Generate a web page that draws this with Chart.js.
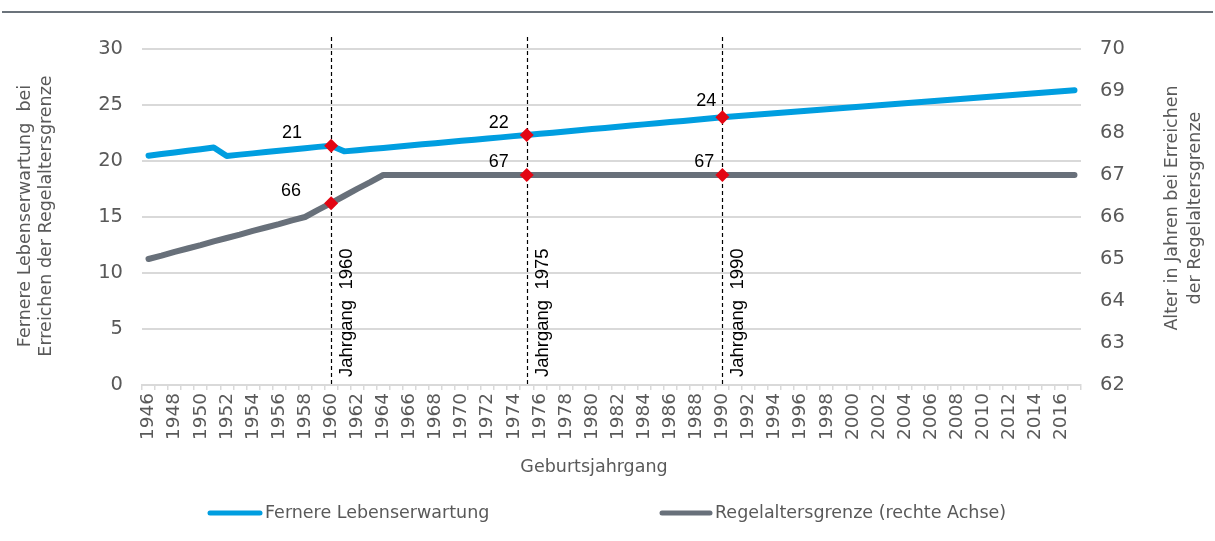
<!DOCTYPE html>
<html lang="de">
<head>
<meta charset="utf-8">
<title>Fernere Lebenserwartung und Regelaltersgrenze</title>
<script src="https://cdn.jsdelivr.net/npm/chart.js@4.4.1/dist/chart.umd.min.js"></script>
<style>
  html, body { margin: 0; padding: 0; background: #fff; }
  #wrap { width: 1215px; height: 541px; }
</style>
</head>
<body>
<div id="wrap"><canvas id="chart" width="1215" height="541"></canvas></div>
<script>
// Geburtsjahrgänge
const years = [
  "1946", "1947", "1948", "1949", "1950", "1951", "1952", "1953", "1954", "1955",
  "1956", "1957", "1958", "1959", "1960", "1961", "1962", "1963", "1964", "1965",
  "1966", "1967", "1968", "1969", "1970", "1971", "1972", "1973", "1974", "1975",
  "1976", "1977", "1978", "1979", "1980", "1981", "1982", "1983", "1984", "1985",
  "1986", "1987", "1988", "1989", "1990", "1991", "1992", "1993", "1994", "1995",
  "1996", "1997", "1998", "1999", "2000", "2001", "2002", "2003", "2004", "2005",
  "2006", "2007", "2008", "2009", "2010", "2011", "2012", "2013", "2014", "2015",
  "2016", "2017"
];

// fernere Lebenserwartung bei Erreichen der Regelaltersgrenze (linke Achse)
const lifeExpectancy = [
  20.47, 20.62, 20.76, 20.91, 21.05, 21.20, 20.45, 20.57, 20.68, 20.80,
  20.91, 21.03, 21.14, 21.26, 21.37, 20.86, 20.96, 21.07, 21.17, 21.28,
  21.38, 21.49, 21.59, 21.69, 21.80, 21.90, 22.01, 22.11, 22.22, 22.32,
  22.43, 22.53, 22.64, 22.74, 22.85, 22.95, 23.06, 23.16, 23.27, 23.37,
  23.48, 23.58, 23.69, 23.79, 23.90, 23.99, 24.08, 24.17, 24.26, 24.35,
  24.44, 24.53, 24.62, 24.71, 24.80, 24.88, 24.97, 25.06, 25.15, 25.24,
  25.33, 25.42, 25.51, 25.60, 25.69, 25.78, 25.87, 25.96, 26.05, 26.14,
  26.23, 26.32
];

// Regelaltersgrenze in Jahren (rechte Achse)
const retirementAge = [
  65.00, 65.08, 65.17, 65.25, 65.33, 65.42, 65.50, 65.58, 65.67, 65.75,
  65.83, 65.92, 66.00, 66.17, 66.33, 66.50, 66.67, 66.83, 67, 67,
  67, 67, 67, 67, 67, 67, 67, 67, 67, 67,
  67, 67, 67, 67, 67, 67, 67, 67, 67, 67,
  67, 67, 67, 67, 67, 67, 67, 67, 67, 67,
  67, 67, 67, 67, 67, 67, 67, 67, 67, 67,
  67, 67, 67, 67, 67, 67, 67, 67, 67, 67,
  67, 67
];

const markedYears = ["1960", "1975", "1990"];
const seriesNames = ["Fernere Lebenserwartung", "Regelaltersgrenze (rechte Achse)"];
const leftTitle = ["Fernere Lebenserwartung  bei", "Erreichen der Regelaltersgrenze"];
const rightTitle = ["Alter in Jahren bei Erreichen", "der Regelaltersgrenze"];
const xTitle = "Geburtsjahrgang";

const BLUE = "#009ee0";
const GREY = "#68707a";
const RED = "#e30613";
const TEXT = "#595959";
const GRID = "#d9d9d9";
const AXIS_FONT = "'DejaVu Sans', sans-serif";
const LABEL_FONT = "'Liberation Sans', Arial, sans-serif";

// label offsets (centre of text relative to the marked point), per marked year
const labelOffsets = [
  [[-39, -13], [-28, -12], [-16, -16]],
  [[-40, -12], [-28, -13], [-18, -13]]
];

const isMarked = ctx => markedYears.includes(years[ctx.dataIndex]);

const overlay = {
  id: "overlay",
  beforeDatasetsDraw(chart) {
    const { ctx, chartArea, scales } = chart;
    ctx.save();
    markedYears.forEach(y => {
      const x = Math.round(scales.x.getPixelForValue(years.indexOf(y))) + 0.5;
      ctx.strokeStyle = "#000";
      ctx.lineWidth = 1.2;
      ctx.setLineDash([4, 3]);
      ctx.beginPath();
      ctx.moveTo(x, 37);
      ctx.lineTo(x, chartArea.bottom);
      ctx.stroke();
      ctx.setLineDash([]);

      ctx.save();
      ctx.translate(x + 15, 377);
      ctx.rotate(-Math.PI / 2);
      ctx.fillStyle = "#000";
      ctx.font = "18.5px " + LABEL_FONT;
      ctx.textAlign = "left";
      ctx.textBaseline = "middle";
      ctx.fillText("Jahrgang  " + y, 0, 0);
      ctx.restore();
    });
    ctx.restore();
  },
  afterDatasetsDraw(chart) {
    const { ctx } = chart;
    ctx.save();
    ctx.font = "18px " + LABEL_FONT;
    ctx.fillStyle = "#000";
    ctx.textAlign = "center";
    ctx.textBaseline = "middle";
    chart.data.datasets.forEach((ds, di) => {
      const meta = chart.getDatasetMeta(di);
      markedYears.forEach((y, k) => {
        const i = years.indexOf(y);
        const pt = meta.data[i];
        const [dx, dy] = labelOffsets[di][k];
        ctx.fillText(String(Math.round(ds.data[i])), pt.x + dx, pt.y + dy);
      });
    });
    ctx.restore();
  },
  afterDraw(chart) {
    const { ctx } = chart;
    ctx.save();
    // rule at the top
    ctx.strokeStyle = "#6b737b";
    ctx.lineWidth = 2;
    ctx.beginPath();
    ctx.moveTo(2, 12);
    ctx.lineTo(1213, 12);
    ctx.stroke();

    ctx.fillStyle = TEXT;
    ctx.font = "17.5px " + AXIS_FONT;
    ctx.textBaseline = "middle";

    // axis titles
    ctx.textAlign = "center";
    ctx.fillText(xTitle, 594, 467);
    leftTitle.forEach((t, i) => {
      ctx.save();
      ctx.translate(25 + i * 21, 216);
      ctx.rotate(-Math.PI / 2);
      ctx.fillText(t, 0, 0);
      ctx.restore();
    });
    rightTitle.forEach((t, i) => {
      ctx.save();
      ctx.translate(1172 + i * 23, 208);
      ctx.rotate(-Math.PI / 2);
      ctx.fillText(t, 0, 0);
      ctx.restore();
    });

    // legend
    const items = [[208, 262], [660, 712]];
    chart.data.datasets.forEach((ds, i) => {
      const [x0, x1] = items[i];
      ctx.strokeStyle = ds.borderColor;
      ctx.lineWidth = 5;
      ctx.lineCap = "round";
      ctx.beginPath();
      ctx.moveTo(x0 + 2, 513);
      ctx.lineTo(x1 - 2, 513);
      ctx.stroke();
      ctx.textAlign = "left";
      ctx.fillText(ds.label, x1 + 3, 513);
    });
    ctx.restore();
  }
};

new Chart(document.getElementById("chart"), {
  type: "line",
  data: {
    labels: years,
    datasets: [
      {
        label: seriesNames[0],
        data: lifeExpectancy,
        yAxisID: "y",
        borderColor: BLUE,
        borderWidth: 6,
        borderCapStyle: "round",
        borderJoinStyle: "round",
        tension: 0,
        pointStyle: "rectRot",
        pointRadius: ctx => (isMarked(ctx) ? 7 : 0),
        pointBackgroundColor: RED,
        pointBorderWidth: 0
      },
      {
        label: seriesNames[1],
        data: retirementAge,
        yAxisID: "y1",
        borderColor: GREY,
        borderWidth: 6,
        borderCapStyle: "round",
        borderJoinStyle: "round",
        tension: 0,
        pointStyle: "rectRot",
        pointRadius: ctx => (isMarked(ctx) ? 7 : 0),
        pointBackgroundColor: RED,
        pointBorderWidth: 0
      }
    ]
  },
  options: {
    responsive: false,
    animation: false,
    events: [],
    layout: { padding: { top: 49, left: 0, right: 0, bottom: 0 } },
    plugins: {
      legend: { display: false },
      tooltip: { enabled: false }
    },
    scales: {
      x: {
        type: "category",
        offset: true,
        afterFit: s => { s.height = 156; },
        border: { color: GRID, width: 2 },
        grid: {
          offset: true,
          drawOnChartArea: false,
          drawTicks: true,
          tickLength: 5,
          color: GRID,
          lineWidth: 1.5
        },
        ticks: {
          autoSkip: false,
          minRotation: 90,
          maxRotation: 90,
          padding: 3,
          color: TEXT,
          font: { family: AXIS_FONT, size: 18.5 },
          callback: function (value, index) {
            return index % 2 === 0 ? this.getLabelForValue(value) : "";
          }
        }
      },
      y: {
        position: "left",
        min: 0,
        max: 30,
        afterFit: s => { s.width = 142; },
        border: { display: false },
        grid: { color: GRID, lineWidth: 2, drawTicks: false },
        ticks: {
          stepSize: 5,
          padding: 19,
          color: TEXT,
          font: { family: AXIS_FONT, size: 19.5 }
        }
      },
      y1: {
        position: "right",
        min: 62,
        max: 70,
        afterFit: s => { s.width = 134; },
        border: { display: false },
        grid: { drawOnChartArea: false, drawTicks: false },
        ticks: {
          stepSize: 1,
          padding: 19,
          color: TEXT,
          font: { family: AXIS_FONT, size: 19.5 }
        }
      }
    }
  },
  plugins: [overlay]
});
</script>
</body>
</html>
